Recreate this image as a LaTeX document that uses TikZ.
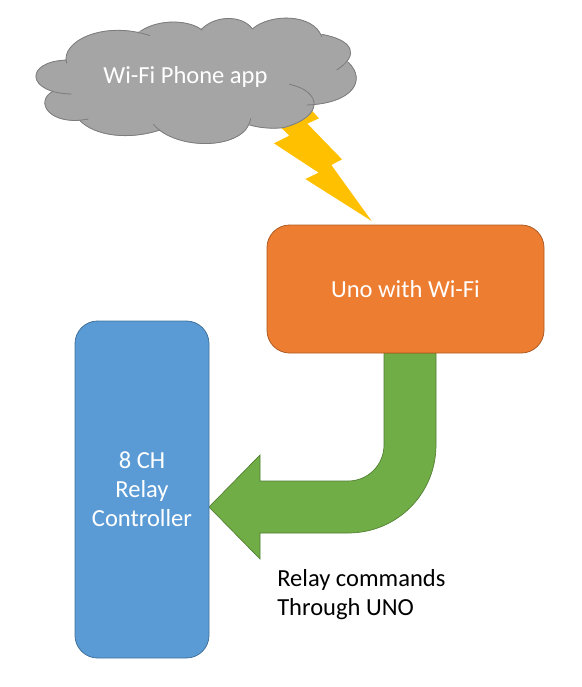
\documentclass[tikz,border=0pt]{standalone}
\usepackage{fontspec}
\setmainfont{Carlito}
\definecolor{cloudgray}{HTML}{A5A5A5}
\definecolor{cloudline}{HTML}{7C7C7C}
\definecolor{unoorange}{HTML}{ED7D31}
\definecolor{unoline}{HTML}{AE5A21}
\definecolor{relayblue}{HTML}{5B9BD5}
\definecolor{relayline}{HTML}{41719C}
\definecolor{arrowgreen}{HTML}{70AD47}
\definecolor{arrowline}{HTML}{507E32}
\definecolor{boltyellow}{HTML}{FFC000}
\tikzset{
  boxlabel/.style={text=white,font=\fontsize{18.4}{21.75}\selectfont,align=center,inner sep=0pt},
  panel/.style={draw,line width=0.6pt,rounded corners=17pt,inner sep=0pt},
  cloudedge/.style={draw=cloudline,line width=0.6pt},
  cloudbody/.style={fill=cloudgray,draw=cloudgray,line width=0.4pt},
}
\newcommand{\lobelist}{
  140/175/120/110/250/45/390/92,
  362/78/420/40/510/45/547/76,
  545/72/590/28/670/32/697/72,
  697/72/750/25/880/25/905/95,
  905/88/1000/105/1020/150/950/195,
  985/172/1040/225/1000/295/860/300,
  808/238/905/258/915/335/790/368,
  790/368/755/372/715/368/690/360,
  692/340/680/435/470/440/400/358,
  420/375/330/405/225/395/178/345,
  205/342/90/365/40/290/100/258,
  155/267/20/265/10/170/140/165}
\begin{document}
\begin{tikzpicture}[x=0.75pt,y=-0.75pt]
\useasboundingbox (0,0) rectangle (582,687);
% bent arrow
\fill[arrowgreen,draw=arrowline,line width=0.5pt] (384,353) -- (384,445) .. controls (384,465) and (368,481) .. (348,481) -- (260,481) -- (260,455) -- (209,507) -- (260,559) -- (260,533) -- (348,533) .. controls (397,533) and (436,494) .. (436,445) -- (436,353) -- cycle;
\node[panel,fill=unoorange,draw=unoline,minimum width=207.75pt,minimum height=96pt] (uno) at (405.5,289) {};
\node[boxlabel] (unolabel) at (405.5,289) {Uno with Wi-Fi};
\node[panel,fill=relayblue,draw=relayline,minimum width=100.5pt,minimum height=252.75pt] (relay) at (142,489.5) {};
\node[boxlabel] (relaylabel) at (142,489.5) {8 CH\\Relay\\Controller};
\node[text=black,font=\fontsize{18.4}{21.75}\selectfont,align=left,anchor=north west,inner sep=0pt] (cmd) at (277,569) {Relay commands\\Through UNO};
% bolt and cloud, drawn in units of 1/3 px from (20,5)
\begin{scope}[xshift=15pt,yshift=-3.75pt,x=0.25pt,y=-0.25pt]
\fill[boltyellow] (860,300) -- (897,340) -- (862,356) -- (966,463) -- (934,480) -- (1055,648) -- (856,522) -- (896,503) -- (762,415) -- (808,392) -- (770,355) -- cycle;
\path[cloudbody] (140,170) -- (362,78) -- (545,72) -- (697,72) -- (905,92) -- (985,172) -- (860,300) -- (790,368) -- (690,360) -- (420,375) -- (178,345) -- (100,258) -- cycle;
\foreach \a/\b/\c/\d/\e/\f/\g/\h in \lobelist {
  \path[cloudbody] (\a,\b) .. controls (\c,\d) and (\e,\f) .. (\g,\h) -- cycle;
}
\foreach \a/\b/\c/\d/\e/\f/\g/\h in \lobelist {
  \draw[cloudedge] (\a,\b) .. controls (\c,\d) and (\e,\f) .. (\g,\h);
}
\end{scope}
\node[boxlabel] (cloudlabel) at (185.5,77) {Wi-Fi Phone app};
\end{tikzpicture}
\end{document}
